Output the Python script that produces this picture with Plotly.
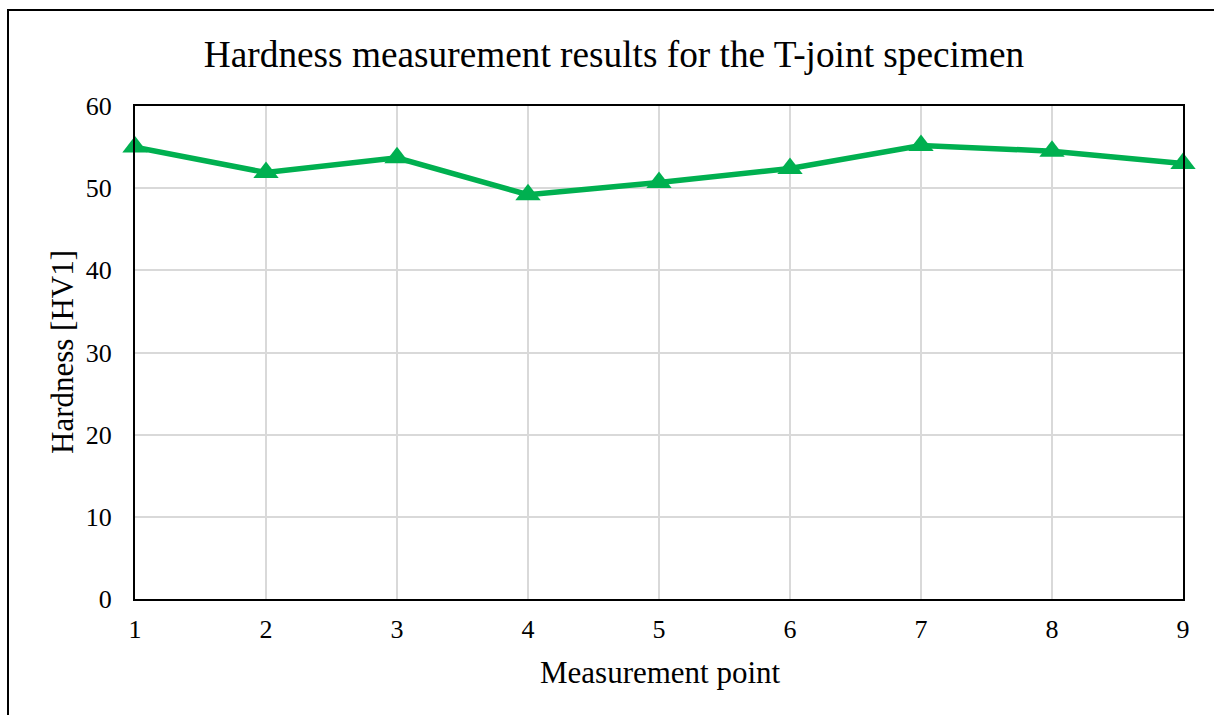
import plotly.graph_objects as go

points = [1, 2, 3, 4, 5, 6, 7, 8, 9]
hardness = [55.0, 51.9, 53.7, 49.2, 50.7, 52.4, 55.2, 54.5, 53.0]
y_ticks = [0, 10, 20, 30, 40, 50, 60]

FONT = "Liberation Serif, Times New Roman, serif"
GREEN = "#00B050"

fig = go.Figure()
fig.add_trace(go.Scatter(
    x=points, y=hardness, mode="lines+markers",
    line=dict(color=GREEN, width=5.5),
    marker=dict(symbol="triangle-up", size=22, color=GREEN),
    cliponaxis=False, showlegend=False,
))

L, R, T, B = 135, 31, 106, 116
W, H = 1214, 715
pw, ph = W - L - R, H - T - B

fig.update_layout(
    width=W, height=H,
    margin=dict(l=L, r=R, t=T, b=B),
    paper_bgcolor="white", plot_bgcolor="white",
    font=dict(family=FONT, color="black", size=26),
    title=dict(text="Hardness measurement results for the T-joint specimen",
               x=(614 - L) / pw, xanchor="center", xref="paper",
               y=1 - 54 / H, yanchor="middle",
               font=dict(size=37.3, family=FONT, color="black")),
    xaxis=dict(range=[1, 9], tickvals=points, ticktext=[str(p) for p in points],
               showgrid=True, gridcolor="#D9D9D9", gridwidth=1.5,
               showline=True, linecolor="black", linewidth=2, mirror=True,
               ticks="", zeroline=False, ticklabelstandoff=6,
               tickfont=dict(size=26, family=FONT)),
    yaxis=dict(range=[0, 60], tickvals=y_ticks,
               showgrid=True, gridcolor="#D9D9D9", gridwidth=1.5,
               showline=True, linecolor="black", linewidth=2, mirror=True,
               ticks="", zeroline=False, ticklabelstandoff=16,
               tickfont=dict(size=26, family=FONT)),
    annotations=[
        dict(text="Measurement point", xref="paper", yref="paper",
             x=(660 - L) / pw, y=(H - B - 672) / ph, xanchor="center", yanchor="middle",
             showarrow=False, font=dict(size=31, family=FONT, color="black")),
        dict(text="Hardness [HV1]", xref="paper", yref="paper", textangle=-90,
             x=(62 - L) / pw, y=(H - B - 352) / ph, xanchor="center", yanchor="middle",
             showarrow=False, font=dict(size=31, family=FONT, color="black")),
    ],
)

# outer chart border (extends past right and bottom edges of the image)
fig.add_shape(type="rect", xref="paper", yref="paper",
              x0=(8 - L) / pw, x1=(1230 - L) / pw,
              y0=(H - B - 730) / ph, y1=(H - B - 10) / ph,
              line=dict(color="black", width=2), fillcolor="rgba(0,0,0,0)", layer="below")

fig.write_html("out.html", config={"displayModeBar": False},
               post_script="document.body.style.margin='0';")
